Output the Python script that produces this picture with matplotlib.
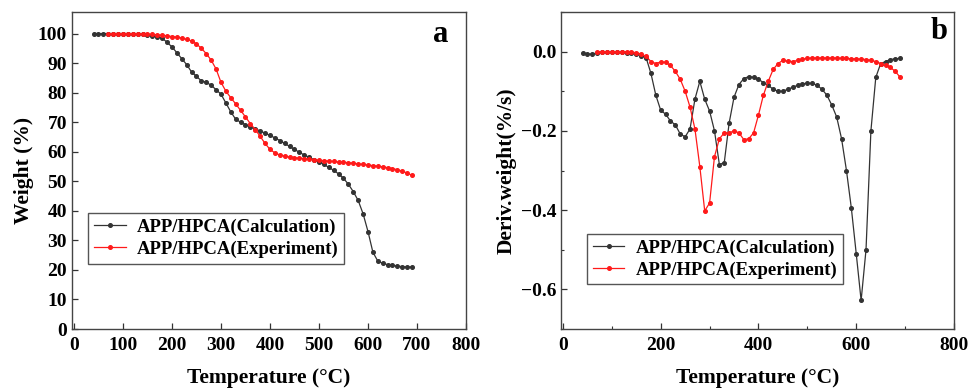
import matplotlib

matplotlib.use("Agg")
import matplotlib.pyplot as plt  # noqa: E402
from matplotlib.ticker import MultipleLocator  # noqa: E402

plt.rcParams["font.family"] = ["Liberation Serif", "DejaVu Serif"]
plt.rcParams["font.weight"] = "bold"

# TG curves (panel a)
temp_calc_a = list(range(40, 700, 10))
weight_calc = [
    100, 100, 100, 100, 100, 100, 100, 100, 99.9, 99.8,   # 40-130
    99.7, 99.5, 99.3, 99.0, 98.5, 97.0, 95.5, 93.5, 91.5, 89.5,  # 140-230
    87.0, 85.5, 84.0, 83.5, 82.5, 81.0, 79.5, 76.5, 73.5, 71.0,  # 240-330
    70.0, 69.2, 68.4, 67.8, 67.0, 66.3, 65.5, 64.7, 63.8, 62.8,  # 340-430
    61.8, 60.8, 59.8, 58.9, 58.1, 57.3, 56.5, 55.7, 54.7, 53.7,  # 440-530
    52.5, 51.0, 49.0, 46.5, 43.5, 39.0, 33.0, 26.0, 23.0, 22.2,  # 540-630
    21.8, 21.5, 21.3, 21.1, 21.0, 21.0,  # 640-690
]
temp_exp_a = list(range(70, 700, 10))
weight_exp = [
    100, 100, 100, 100, 100, 100, 100, 99.9, 99.8, 99.7,  # 70-160
    99.6, 99.4, 99.2, 99.0, 98.8, 98.5, 98.0, 97.5, 96.5, 95.0,  # 170-260
    93.2, 91.0, 88.0, 83.5, 80.5, 78.3, 76.2, 74.0, 71.8, 69.5,  # 270-360
    67.5, 65.2, 62.8, 60.8, 59.6, 58.9, 58.5, 58.2, 58.0, 57.8,  # 370-460
    57.7, 57.5, 57.3, 57.1, 57.0, 56.8, 56.7, 56.5, 56.4, 56.3,  # 470-560
    56.1, 55.9, 55.7, 55.5, 55.3, 55.1, 54.9, 54.6, 54.3, 53.9,  # 570-660
    53.4, 52.8, 52.0,  # 670-690
]

# DTG curves (panel b)
temp_calc_b = list(range(40, 700, 10))
deriv_calc = [
    -0.003, -0.006, -0.006, -0.003, -0.002, -0.002, -0.002, -0.002, -0.002, -0.003,  # 40-130
    -0.004, -0.006, -0.010, -0.015, -0.055, -0.110, -0.148, -0.158, -0.175, -0.185,  # 140-230
    -0.208, -0.215, -0.195, -0.120, -0.075, -0.120, -0.150, -0.200, -0.285, -0.280,  # 240-330
    -0.180, -0.115, -0.083, -0.068, -0.063, -0.065, -0.070, -0.078, -0.085, -0.095,  # 340-430
    -0.100, -0.100, -0.095, -0.090, -0.085, -0.081, -0.080, -0.080, -0.085, -0.095,  # 440-530
    -0.110, -0.135, -0.165, -0.220, -0.300, -0.395, -0.510, -0.628, -0.500, -0.200,  # 540-630
    -0.065, -0.030, -0.025, -0.020, -0.018, -0.017,  # 640-690
]
temp_exp_b = list(range(70, 700, 10))
deriv_exp = [
    0.000, 0.000, 0.000, 0.000, 0.000, 0.000, 0.000, -0.001, -0.003, -0.006,  # 70-160
    -0.012, -0.025, -0.030, -0.026, -0.027, -0.035, -0.050, -0.070, -0.100, -0.140,  # 170-260
    -0.195, -0.290, -0.402, -0.382, -0.265, -0.220, -0.205, -0.205, -0.200, -0.205,  # 270-360
    -0.222, -0.220, -0.205, -0.160, -0.110, -0.075, -0.045, -0.030, -0.022, -0.024,  # 370-460
    -0.025, -0.022, -0.019, -0.017, -0.016, -0.016, -0.016, -0.016, -0.016, -0.016,  # 470-560
    -0.017, -0.017, -0.018, -0.018, -0.019, -0.020, -0.022, -0.025, -0.030, -0.035,  # 570-660
    -0.040, -0.050, -0.065,  # 670-690
]

LABELS = ["APP/HPCA(Calculation)", "APP/HPCA(Experiment)"]
COLORS = ["#333333", "#ff1a1a"]

fig = plt.figure(figsize=(9.69, 3.89), dpi=100)
ax1 = fig.add_axes([72 / 969, 60 / 389, 394 / 969, 317 / 389])
ax2 = fig.add_axes([561 / 969, 60 / 389, 393 / 969, 317 / 389])

style = dict(lw=0.9, marker="o", ms=2.6)
ax1.plot(temp_calc_a, weight_calc, color=COLORS[0], label=LABELS[0], **style)
ax1.plot(temp_exp_a, weight_exp, color=COLORS[1], label=LABELS[1], **style)
ax2.plot(temp_calc_b, deriv_calc, color=COLORS[0], label=LABELS[0], **style)
ax2.plot(temp_exp_b, deriv_exp, color=COLORS[1], label=LABELS[1], **style)

ax1.set_xlim(-4, 800)
ax1.set_ylim(0, 107.3)
ax1.xaxis.set_major_locator(MultipleLocator(100))
ax1.yaxis.set_major_locator(MultipleLocator(10))
ax1.set_ylabel("Weight (%)", fontsize=15.5, fontweight="bold", labelpad=3)

ax2.set_xlim(-4, 800)
ax2.set_ylim(-0.7, 0.1)
ax2.xaxis.set_major_locator(MultipleLocator(200))
ax2.xaxis.set_minor_locator(MultipleLocator(100))
ax2.yaxis.set_major_locator(MultipleLocator(0.2))
ax2.yaxis.set_minor_locator(MultipleLocator(0.1))
ax2.set_ylabel("Deriv.weight(%/s)", fontsize=15.5, fontweight="bold", labelpad=3)

for ax in (ax1, ax2):
    ax.set_xlabel("Temperature (°C)", fontsize=15.5, fontweight="bold", labelpad=10)
    ax.tick_params(which="major", direction="in", length=4, width=0.9,
                   labelsize=14, color="#333333")
    ax.tick_params(axis="x", which="major", pad=6)
    ax.tick_params(which="minor", direction="in", length=2.5, width=0.8,
                   color="#333333")
    for lab in ax.get_xticklabels() + ax.get_yticklabels():
        lab.set_fontweight("bold")
    for sp in ax.spines.values():
        sp.set_color("#444444")
        sp.set_linewidth(1.0)

ax1.text(0.955, 0.93, "a", transform=ax1.transAxes, fontsize=22,
         fontweight="bold", ha="right", va="center")
ax2.text(0.983, 0.94, "b", transform=ax2.transAxes, fontsize=22,
         fontweight="bold", ha="right", va="center")

leg_kw = dict(loc="upper left", frameon=True, fancybox=False,
              edgecolor="#555555", framealpha=1, handlelength=1.7,
              handletextpad=0.6, borderpad=0.3, labelspacing=0.25,
              borderaxespad=0, prop={"weight": "bold", "size": 13.5})
ax1.legend(bbox_to_anchor=(0.041, 0.366), **leg_kw)
ax2.legend(bbox_to_anchor=(0.066, 0.30), **leg_kw)

fig.savefig("out.png", dpi=100)
plt.close(fig)
